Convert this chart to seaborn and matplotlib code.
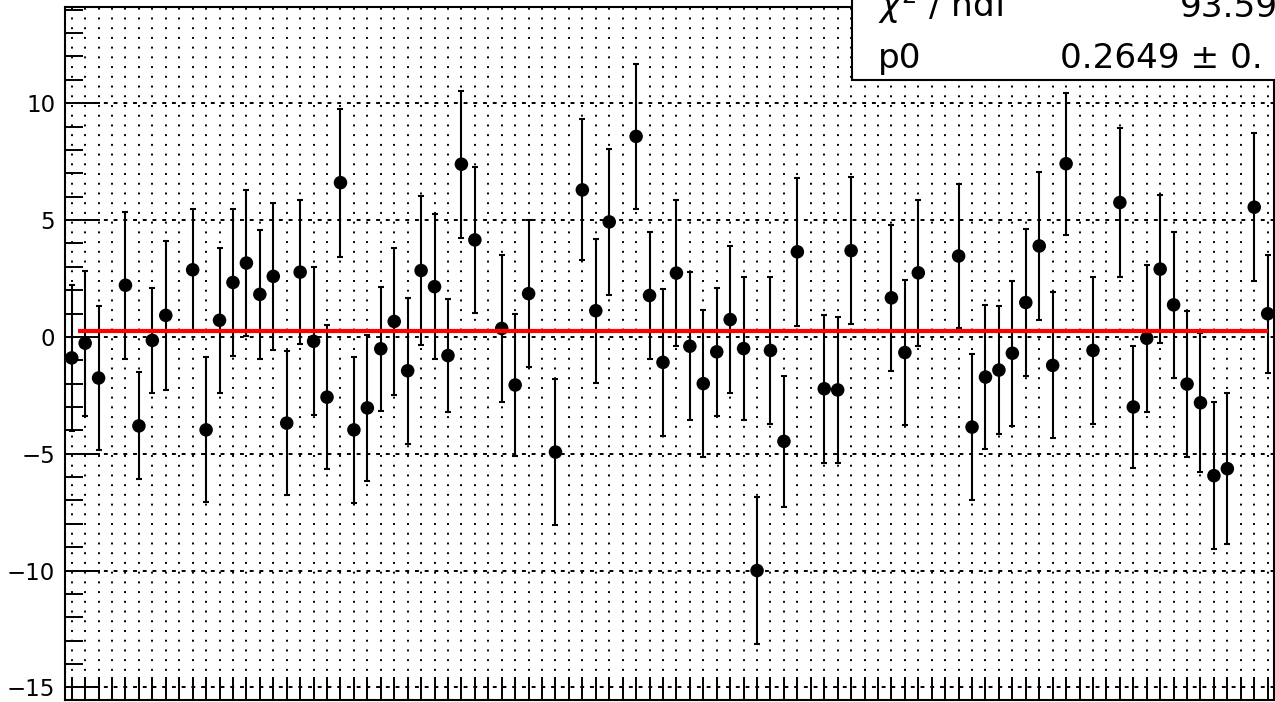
import numpy as np
import pandas as pd
import seaborn as sns
import matplotlib.pyplot as plt
from matplotlib.patches import Rectangle
from matplotlib.ticker import MultipleLocator

# bin index, value and error of every filled bin (empty bins are left out)
bins = [0, 1, 2, 4, 5, 6, 7, 9, 10, 11, 12, 13, 14, 15, 16, 17, 18, 19,
        20, 21, 22, 23, 24, 25, 26, 27, 28, 29, 30, 32, 33, 34, 36, 38, 39,
        40, 42, 43, 44, 45, 46, 47, 48, 49, 50, 51, 52, 53, 54, 56, 57, 58,
        61, 62, 63, 66, 67, 68, 69, 70, 71, 72, 73, 74, 76, 78, 79, 80, 81,
        82, 83, 84, 85, 86, 88, 89]
vals = [-0.90, -0.27, -1.76, 2.21, -3.81, -0.15, 0.92, 2.87, -3.98, 0.71,
        2.33, 3.16, 1.82, 2.59, -3.69, 2.77, -0.19, -2.58,
        6.60, -3.98, -3.04, -0.51, 0.66, -1.45, 2.84, 2.15, -0.80, 7.39,
        4.15, 0.36, -2.06, 1.85, -4.93, 6.29, 1.12,
        4.92, 8.58, 1.77, -1.09, 2.73, -0.40, -2.00, -0.64, 0.74, -0.50,
        -10.00, -0.58, -4.47, 3.64, -2.22, -2.27, 3.69,
        1.67, -0.67, 2.74, 3.46, -3.86, -1.72, -1.42, -0.70, 1.47, 3.89,
        -1.22, 7.41, -0.58, 5.75, -3.00, -0.06, 2.90,
        1.37, -2.02, -2.82, -5.94, -5.64, 5.55, 0.99]
errs = [3.13, 3.11, 3.08, 3.15, 2.29, 2.24, 3.19, 2.60, 3.10, 3.10,
        3.14, 3.12, 2.77, 3.15, 3.09, 3.07, 3.16, 3.09,
        3.17, 3.11, 3.12, 2.65, 3.15, 3.13, 3.18, 3.11, 2.40, 3.15,
        3.13, 3.16, 3.04, 3.16, 3.13, 3.02, 3.08,
        3.12, 3.11, 2.71, 3.15, 3.11, 3.16, 3.13, 2.75, 3.13, 3.06,
        3.14, 3.14, 2.80, 3.17, 3.16, 3.14, 3.15,
        3.11, 3.10, 3.13, 3.10, 3.13, 3.09, 2.75, 3.11, 3.14, 3.16,
        3.12, 3.04, 3.14, 3.17, 2.60, 3.15, 3.16,
        3.12, 3.14, 2.98, 3.14, 3.23, 3.18, 2.52]

n_bins = 90
p0 = 0.2649
fit_range = [0.5, 89.0]
stat_labels = ["$\\chi^{2}$ / ndf", "p0"]
stat_values = ["93.59", "0.2649 \u00b1 0."]

df = pd.DataFrame({"bin": bins, "val": vals, "err": errs})

sns.set_theme(style="white")
plt.rcParams["font.family"] = ["DejaVu Sans"]

W, H = 1275, 702
fig = plt.figure(figsize=(W / 100, H / 100), dpi=100)
ax = fig.add_axes([65 / W, 2 / H, (1274.4 - 65) / W, (700 - 6.7) / H])

ax.errorbar(df["bin"], df["val"], yerr=df["err"], fmt="none", ecolor="black",
            elinewidth=1.5, capsize=2.5, capthick=1.5, zorder=3)
sns.scatterplot(data=df, x="bin", y="val", ax=ax, color="black", s=95,
                edgecolor="none", zorder=4)
ax.hlines(p0, fit_range[0], fit_range[1], color="red", lw=3, zorder=5)

ax.set_xlim(-0.5, n_bins - 0.5)
ax.set_ylim(-15.54, 14.13)
ax.set_xlabel("")
ax.set_ylabel("")

ax.set_xticks(np.arange(n_bins))
ax.set_xticklabels([])
ax.yaxis.set_major_locator(MultipleLocator(5))
ax.yaxis.set_minor_locator(MultipleLocator(1))
ax.tick_params(axis="x", which="major", direction="in", length=16.5,
               width=1.4, color="black", bottom=True, top=False)
ax.tick_params(axis="y", which="major", direction="in", length=25,
               width=1.4, color="black", left=True, right=False,
               labelsize=16.5, pad=7, labelcolor="black")
ax.tick_params(axis="y", which="minor", direction="in", length=13,
               width=1.4, color="black", left=True, right=False)

ax.set_axisbelow(True)
ax.grid(True, axis="x", which="major", color="black", lw=1.4,
        linestyle=(0, (1, 4)))
ax.grid(True, axis="y", which="major", color="black", lw=1.4,
        linestyle=(0, (2, 3)))

for s in ax.spines.values():
    s.set_color("black")
    s.set_linewidth(1.5)

# stats box, cut by the canvas edge as in the original
fig.add_artist(Rectangle((851.7 / W, 1 - 80 / H), 0.5, 0.5,
                         transform=fig.transFigure, facecolor="white",
                         edgecolor="black", lw=1.5, zorder=10, clip_on=False))
for row, base in enumerate([17, 68]):
    fig.text(878 / W, 1 - base / H, stat_labels[row], fontsize=24.7,
             va="baseline", ha="left", color="black", zorder=11)
fig.text(1180 / W, 1 - 17 / H, stat_values[0], fontsize=24.7,
         va="baseline", ha="left", color="black", zorder=11)
fig.text(1060 / W, 1 - 68 / H, stat_values[1], fontsize=24.7,
         va="baseline", ha="left", color="black", zorder=11)

plt.savefig("out.png", dpi=100)
